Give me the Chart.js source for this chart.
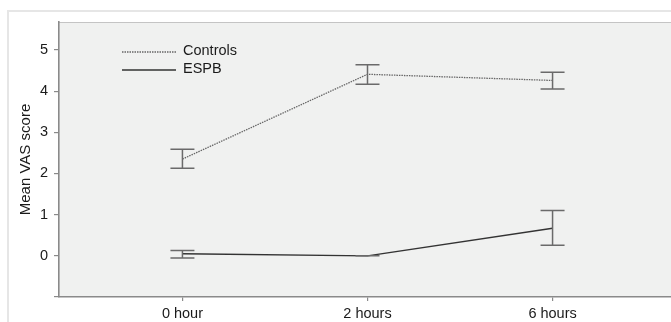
<!DOCTYPE html>
<html>
<head>
<meta charset="utf-8">
<script src="https://cdn.jsdelivr.net/npm/chart.js@4"></script>
<style>
  html, body { margin: 0; padding: 0; background: #fff; overflow: hidden; }
  .frame { position: absolute; left: 7px; top: 10px; width: 700px; height: 400px; border: 2px solid #e6e6e6; }
  .wrap { position: absolute; left: 0; top: 0; width: 671px; height: 322px; }
</style>
</head>
<body>
<div class="frame"></div>
<div class="wrap"><canvas id="myChart"></canvas></div>
<script>
const categories = ['0 hour', '2 hours', '6 hours']
const controlsMean = [2.35, 4.41, 4.26]
const controlsLow = [2.13, 4.17, 4.05]
const controlsHigh = [2.59, 4.64, 4.46]
const espbMean = [0.05, 0.0, 0.67]
const espbLow = [-0.05, 0.0, 0.26]
const espbHigh = [0.13, 0.0, 1.10]
const yTicks = [-1, 0, 1, 2, 3, 4, 5]

const ctx = document.getElementById('myChart')
const font = { family: 'Liberation Sans, Arial, sans-serif', size: 14.5 }

const toPoints = (arr) => arr.map((v, i) => ({ x: i, y: v }))

// plot background + top edge
const plotBg = {
  id: 'plotBg',
  beforeDraw (chart) {
    const { ctx, chartArea: a } = chart
    ctx.save()
    ctx.fillStyle = '#f0f1f0'
    ctx.fillRect(a.left, a.top, a.right - a.left, a.bottom - a.top)
    ctx.strokeStyle = '#c4c4c4'
    ctx.lineWidth = 1
    ctx.beginPath()
    ctx.moveTo(a.left, a.top + 0.5)
    ctx.lineTo(a.right, a.top + 0.5)
    ctx.stroke()
    ctx.restore()
  }
}

// error bars from the low/high arrays
const errorBars = {
  id: 'errorBars',
  afterDatasetsDraw (chart) {
    const { ctx, scales: { x, y } } = chart
    const sets = [[controlsLow, controlsHigh], [espbLow, espbHigh]]
    ctx.save()
    ctx.strokeStyle = '#6a6a6a'
    ctx.lineWidth = 1.5
    sets.forEach(([lo, hi]) => {
      lo.forEach((l, i) => {
        const px = x.getPixelForValue(i)
        const y1 = y.getPixelForValue(l)
        const y2 = y.getPixelForValue(hi[i])
        ctx.beginPath()
        ctx.moveTo(px, y1)
        ctx.lineTo(px, y2)
        ctx.moveTo(px - 12, y1)
        ctx.lineTo(px + 12, y1)
        ctx.moveTo(px - 12, y2)
        ctx.lineTo(px + 12, y2)
        ctx.stroke()
      })
    })
    ctx.restore()
  }
}

// legend in the top-left of the plot
const legendBox = {
  id: 'legendBox',
  afterDraw (chart) {
    const { ctx } = chart
    ctx.save()
    chart.data.datasets.forEach((ds, i) => {
      const yy = 52 + i * 18
      ctx.strokeStyle = ds.borderColor
      ctx.lineWidth = ds.borderWidth
      ctx.setLineDash(ds.borderDash || [])
      ctx.beginPath()
      ctx.moveTo(122, yy)
      ctx.lineTo(176, yy)
      ctx.stroke()
      ctx.setLineDash([])
      ctx.fillStyle = '#1a1a1a'
      ctx.font = '14.5px Liberation Sans, Arial, sans-serif'
      ctx.textBaseline = 'middle'
      ctx.fillText(ds.label, 183, yy - 1)
    })
    ctx.restore()
  }
}

new Chart(ctx, {
  type: 'line',
  data: {
    datasets: [{
      label: 'Controls',
      data: toPoints(controlsMean),
      borderColor: '#666',
      borderWidth: 1.3,
      borderDash: [1.5, 1],
      pointRadius: 0,
      tension: 0
    }, {
      label: 'ESPB',
      data: toPoints(espbMean),
      borderColor: '#333',
      borderWidth: 1.4,
      pointRadius: 0,
      tension: 0
    }]
  },
  options: {
    responsive: true,
    maintainAspectRatio: false,
    animation: false,
    layout: { padding: { top: 22, right: 0, left: 0, bottom: 0 } },
    plugins: { legend: { display: false }, tooltip: { enabled: false } },
    scales: {
      x: {
        type: 'linear',
        min: -0.667,
        max: 2.64,
        afterBuildTicks: (s) => { s.ticks = categories.map((c, i) => ({ value: i })) },
        afterFit: (s) => { s.height = 25 },
        ticks: {
          callback: (v) => categories[v],
          color: '#1a1a1a',
          font,
          padding: 4,
          maxRotation: 0,
          autoSkip: false
        },
        grid: { drawOnChartArea: false, drawTicks: true, tickLength: 4, color: '#8a8a8a', lineWidth: 1.2 },
        border: { display: true, color: '#8a8a8a', width: 1.6 }
      },
      y: {
        min: -1,
        max: 5.68,
        afterBuildTicks: (s) => { s.ticks = yTicks.map(v => ({ value: v })) },
        afterFit: (s) => { s.width = 59 },
        ticks: {
          callback: (v) => (v < 0 ? '' : v),
          color: '#1a1a1a',
          font,
          padding: 6
        },
        title: {
          display: true,
          text: 'Mean VAS score',
          color: '#1a1a1a',
          font: { family: 'Liberation Sans, Arial, sans-serif', size: 15 },
          padding: { top: 17 }
        },
        grid: { drawOnChartArea: false, drawTicks: true, tickLength: 5, color: '#8a8a8a', lineWidth: 1.2 },
        border: { display: true, color: '#8a8a8a', width: 1.6 }
      }
    }
  },
  plugins: [plotBg, errorBars, legendBox]
})
</script>
</body>
</html>
